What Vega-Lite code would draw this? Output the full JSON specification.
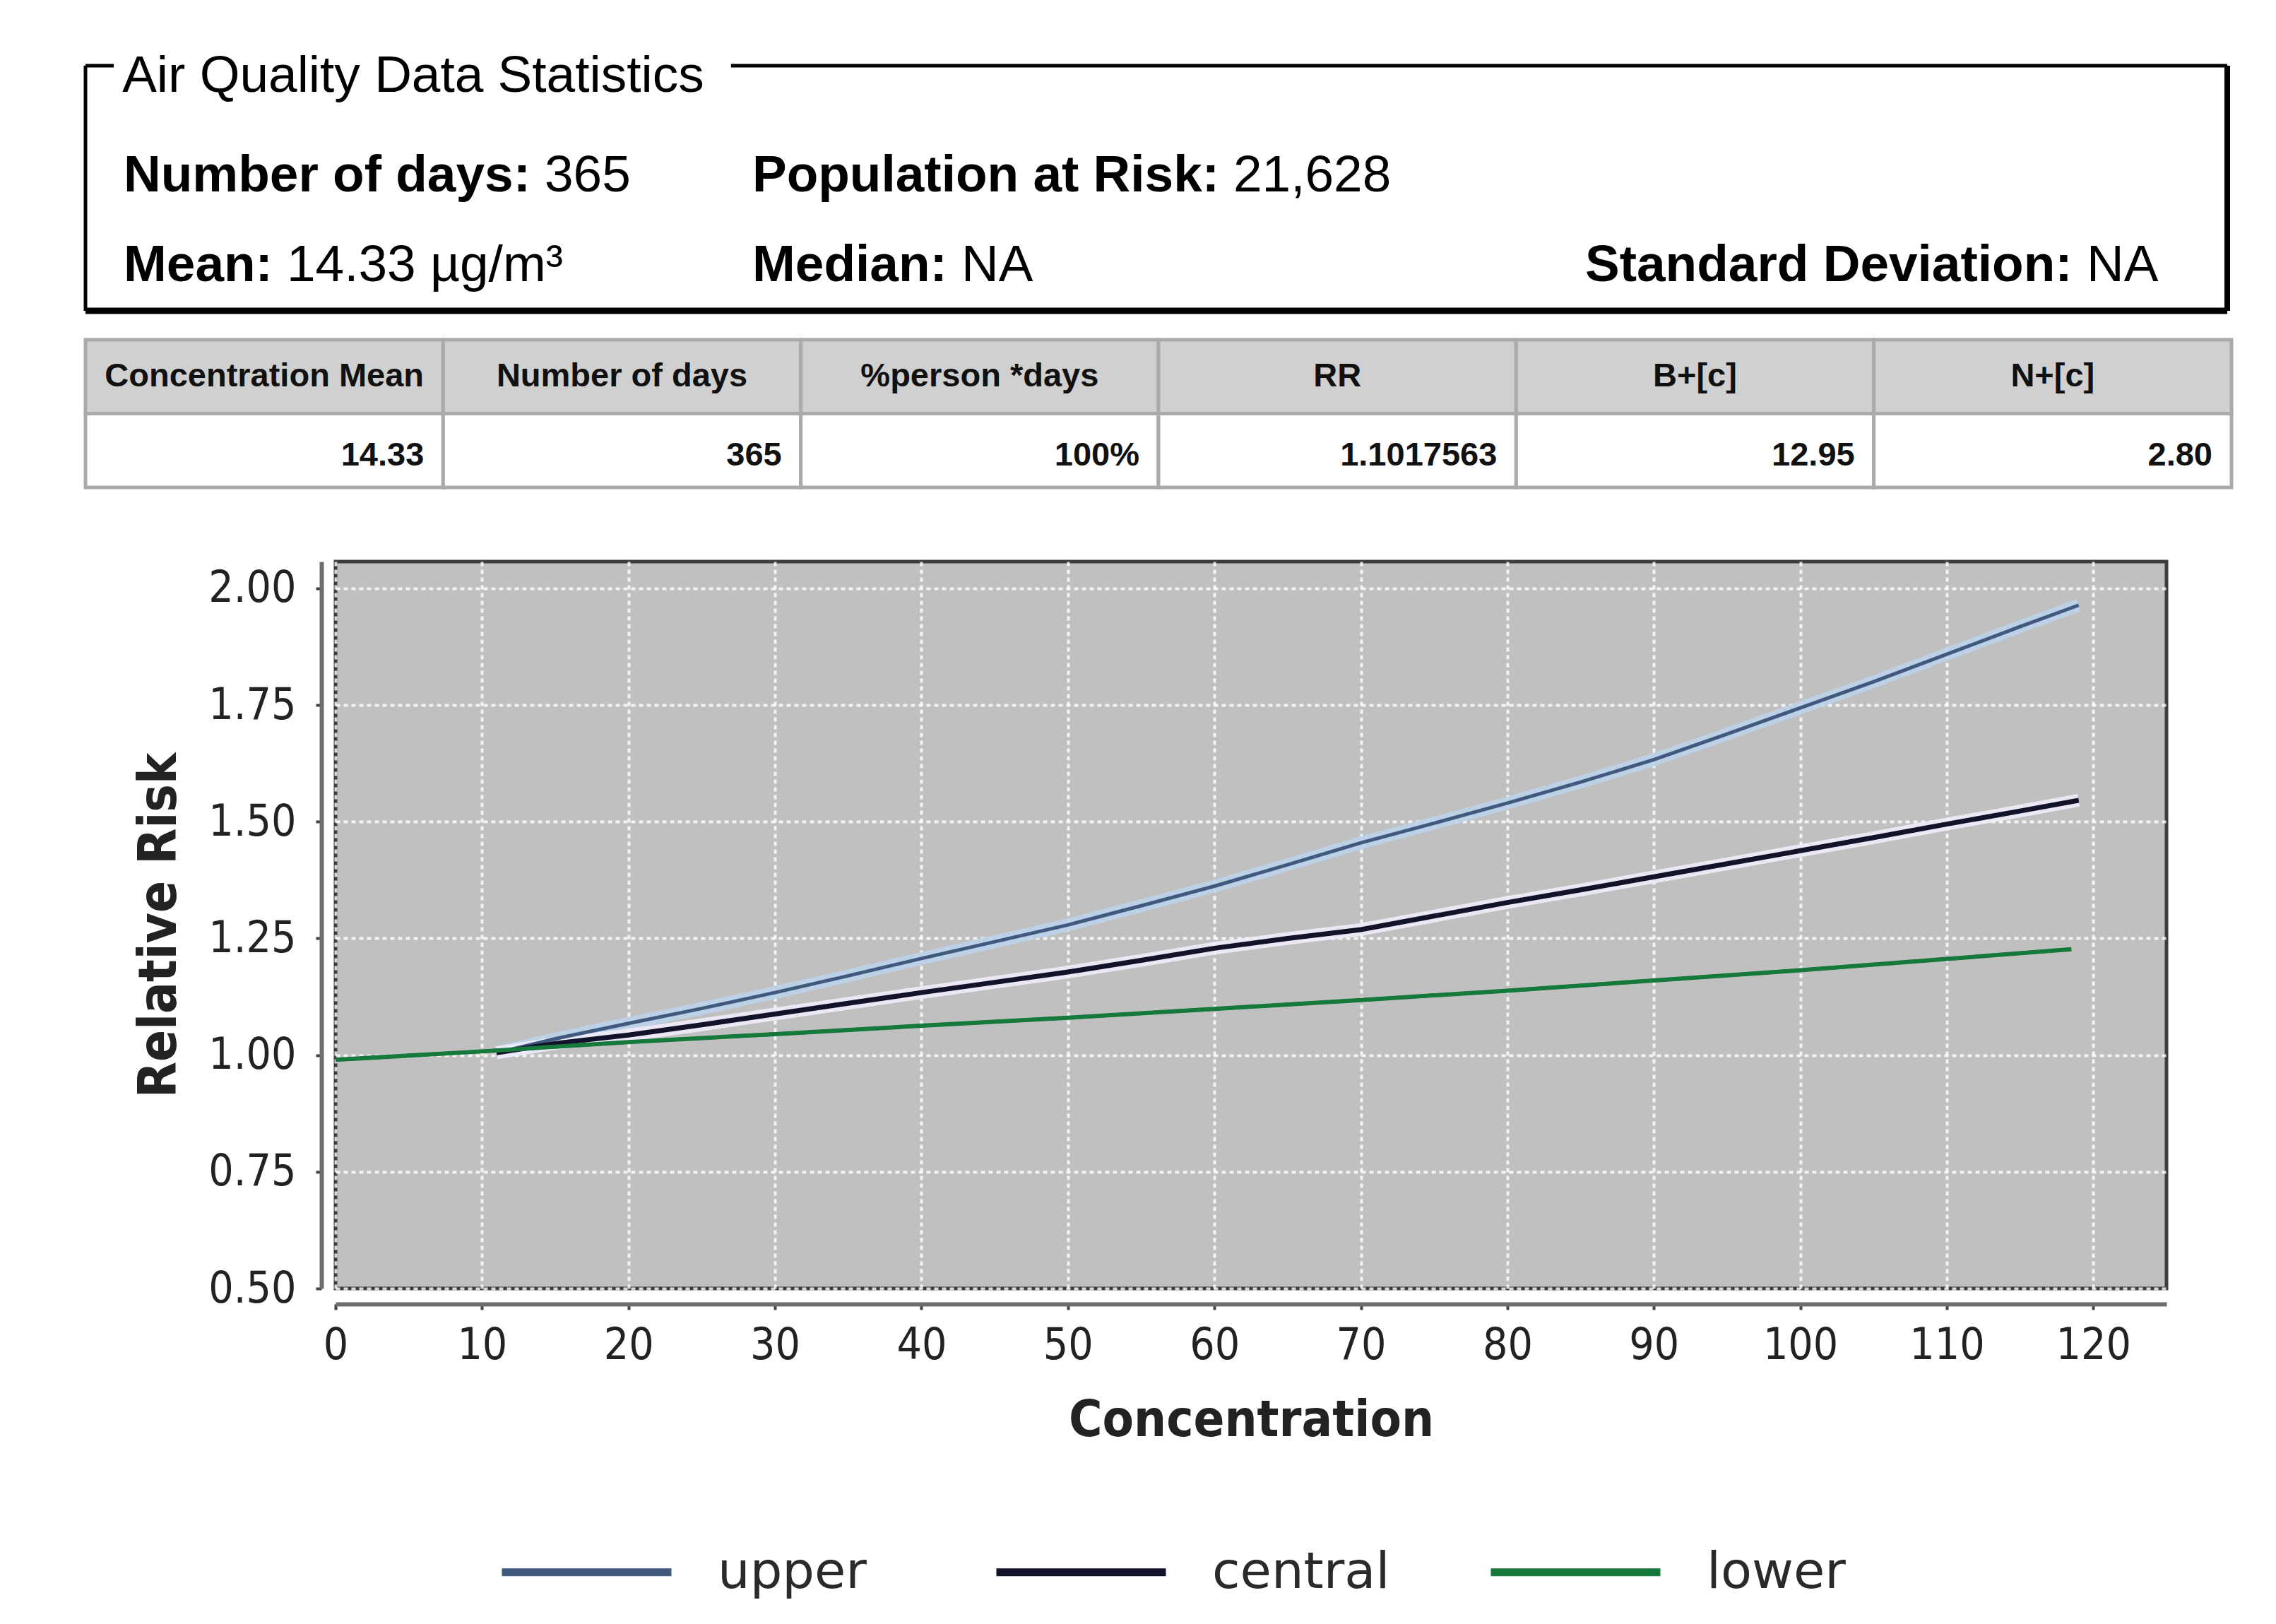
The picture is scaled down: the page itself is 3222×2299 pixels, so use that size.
{
  "$schema": "https://vega.github.io/schema/vega-lite/v6.json",
  "background": "white",
  "autosize": {"type": "none"},
  "padding": {"left": 475, "top": 795, "right": 155, "bottom": 475},
  "width": 2592,
  "height": 1029,
  "view": {"fill": "#c0c0c0", "stroke": "#3c3c3c", "strokeWidth": 5},
  "datasets": {
    "stats": [
      {"label": "Number of days:", "value": "365", "line": 1, "slot": 1, "order": 2},
      {"label": "Population at Risk:", "value": "21,628", "line": 1, "slot": 2, "order": 4},
      {"label": "Mean:", "value": "14.33 µg/m³", "line": 2, "slot": 1, "order": 1},
      {"label": "Median:", "value": "NA", "line": 2, "slot": 2, "order": 3},
      {"label": "Standard Deviation:", "value": "NA", "line": 2, "slot": 3, "order": 5}
    ],
    "table": [
      {"col": 1, "part": "header", "text": "Concentration Mean"},
      {"col": 2, "part": "header", "text": "Number of days"},
      {"col": 3, "part": "header", "text": "%person *days"},
      {"col": 4, "part": "header", "text": "RR"},
      {"col": 5, "part": "header", "text": "B+[c]"},
      {"col": 6, "part": "header", "text": "N+[c]"},
      {"col": 1, "part": "value", "text": "14.33"},
      {"col": 2, "part": "value", "text": "365"},
      {"col": 3, "part": "value", "text": "100%"},
      {"col": 4, "part": "value", "text": "1.1017563"},
      {"col": 5, "part": "value", "text": "12.95"},
      {"col": 6, "part": "value", "text": "2.80"}
    ],
    "curves": [
      {"series": "upper", "conc": 11, "rr": 1.005},
      {"series": "upper", "conc": 15, "rr": 1.035},
      {"series": "upper", "conc": 20, "rr": 1.068},
      {"series": "upper", "conc": 25, "rr": 1.1},
      {"series": "upper", "conc": 30, "rr": 1.134},
      {"series": "upper", "conc": 35, "rr": 1.17},
      {"series": "upper", "conc": 40, "rr": 1.207},
      {"series": "upper", "conc": 45, "rr": 1.243},
      {"series": "upper", "conc": 50, "rr": 1.279},
      {"series": "upper", "conc": 55, "rr": 1.32},
      {"series": "upper", "conc": 60, "rr": 1.362},
      {"series": "upper", "conc": 65, "rr": 1.408},
      {"series": "upper", "conc": 70, "rr": 1.455},
      {"series": "upper", "conc": 75, "rr": 1.497},
      {"series": "upper", "conc": 80, "rr": 1.54},
      {"series": "upper", "conc": 85, "rr": 1.585},
      {"series": "upper", "conc": 90, "rr": 1.633},
      {"series": "upper", "conc": 95, "rr": 1.688},
      {"series": "upper", "conc": 100, "rr": 1.744},
      {"series": "upper", "conc": 105, "rr": 1.8},
      {"series": "upper", "conc": 110, "rr": 1.859},
      {"series": "upper", "conc": 115, "rr": 1.918},
      {"series": "upper", "conc": 119, "rr": 1.964},
      {"series": "central", "conc": 11, "rr": 1.005},
      {"series": "central", "conc": 15, "rr": 1.025},
      {"series": "central", "conc": 20, "rr": 1.043},
      {"series": "central", "conc": 25, "rr": 1.065},
      {"series": "central", "conc": 30, "rr": 1.088},
      {"series": "central", "conc": 35, "rr": 1.111},
      {"series": "central", "conc": 40, "rr": 1.134},
      {"series": "central", "conc": 45, "rr": 1.156},
      {"series": "central", "conc": 50, "rr": 1.178},
      {"series": "central", "conc": 55, "rr": 1.203},
      {"series": "central", "conc": 60, "rr": 1.229},
      {"series": "central", "conc": 65, "rr": 1.25},
      {"series": "central", "conc": 70, "rr": 1.269},
      {"series": "central", "conc": 75, "rr": 1.298},
      {"series": "central", "conc": 80, "rr": 1.327},
      {"series": "central", "conc": 85, "rr": 1.354},
      {"series": "central", "conc": 90, "rr": 1.382},
      {"series": "central", "conc": 95, "rr": 1.41},
      {"series": "central", "conc": 100, "rr": 1.438},
      {"series": "central", "conc": 105, "rr": 1.466},
      {"series": "central", "conc": 110, "rr": 1.495},
      {"series": "central", "conc": 115, "rr": 1.523},
      {"series": "central", "conc": 119, "rr": 1.546},
      {"series": "lower", "conc": 0, "rr": 0.99},
      {"series": "lower", "conc": 10, "rr": 1.008},
      {"series": "lower", "conc": 20, "rr": 1.028},
      {"series": "lower", "conc": 30, "rr": 1.045},
      {"series": "lower", "conc": 40, "rr": 1.063},
      {"series": "lower", "conc": 50, "rr": 1.08},
      {"series": "lower", "conc": 60, "rr": 1.099},
      {"series": "lower", "conc": 70, "rr": 1.118},
      {"series": "lower", "conc": 80, "rr": 1.138},
      {"series": "lower", "conc": 90, "rr": 1.16},
      {"series": "lower", "conc": 100, "rr": 1.182},
      {"series": "lower", "conc": 110, "rr": 1.206},
      {"series": "lower", "conc": 118.5, "rr": 1.227}
    ]
  },
  "layer": [
    {
      "data": {"values": [{}]},
      "mark": {"type": "rule", "color": "#000000", "strokeWidth": 5},
      "encoding": {
        "x": {"datum": 0, "type": "quantitative", "scale": {"domain": [0, 1], "range": [-354, 2678]}, "axis": null},
        "x2": {"datum": 0.0132},
        "y": {"datum": 0, "type": "quantitative", "scale": {"domain": [0, 1], "range": [-702, -355]}, "axis": null}
      }
    },
    {
      "data": {"values": [{}]},
      "mark": {"type": "rule", "color": "#000000", "strokeWidth": 5},
      "encoding": {
        "x": {"datum": 0.3014, "type": "quantitative", "scale": {"domain": [0, 1], "range": [-354, 2678]}, "axis": null},
        "x2": {"datum": 1},
        "y": {"datum": 0, "type": "quantitative", "scale": {"domain": [0, 1], "range": [-702, -355]}, "axis": null}
      }
    },
    {
      "data": {"values": [{}]},
      "mark": {"type": "rule", "color": "#000000", "strokeWidth": 5},
      "encoding": {
        "x": {"datum": 0, "type": "quantitative", "scale": {"domain": [0, 1], "range": [-354, 2678]}, "axis": null},
        "y": {"datum": 0, "type": "quantitative", "scale": {"domain": [0, 1], "range": [-702, -355]}, "axis": null},
        "y2": {"datum": 1}
      }
    },
    {
      "data": {"values": [{}]},
      "mark": {"type": "rule", "color": "#000000", "strokeWidth": 8},
      "encoding": {
        "x": {"datum": 1, "type": "quantitative", "scale": {"domain": [0, 1], "range": [-354, 2678]}, "axis": null},
        "y": {"datum": 0, "type": "quantitative", "scale": {"domain": [0, 1], "range": [-702, -355]}, "axis": null},
        "y2": {"datum": 1}
      }
    },
    {
      "data": {"values": [{}]},
      "mark": {"type": "rule", "color": "#000000", "strokeWidth": 9},
      "encoding": {
        "x": {"datum": 0, "type": "quantitative", "scale": {"domain": [0, 1], "range": [-354, 2678]}, "axis": null},
        "x2": {"datum": 1},
        "y": {"datum": 1, "type": "quantitative", "scale": {"domain": [0, 1], "range": [-702, -355]}, "axis": null}
      }
    },
    {
      "data": {"values": [{"title": "Air Quality Data Statistics"}]},
      "mark": {"type": "text", "font": "Liberation Sans", "fontSize": 73, "align": "left", "baseline": "alphabetic", "color": "#000000"},
      "encoding": {
        "x": {"datum": 0.0172, "type": "quantitative", "scale": {"domain": [0, 1], "range": [-354, 2678]}, "axis": null},
        "y": {"datum": 0.1066, "type": "quantitative", "scale": {"domain": [0, 1], "range": [-702, -355]}, "axis": null},
        "text": {"field": "title"}
      }
    },
    {
      "data": {"name": "stats"},
      "mark": {"type": "text", "font": "Liberation Sans", "fontWeight": "bold", "fontSize": 73, "align": "left", "baseline": "alphabetic", "color": "#000000"},
      "encoding": {
        "x": {"field": "slot", "type": "quantitative", "scale": {"domain": [1, 2, 3], "range": [-300, 590, 1769]}, "axis": null},
        "y": {"field": "line", "type": "quantitative", "scale": {"domain": [1, 2], "range": [-524.5, -397]}, "axis": null},
        "text": {"field": "label"}
      }
    },
    {
      "data": {"name": "stats"},
      "mark": {"type": "text", "font": "Liberation Sans", "fontSize": 73, "align": "left", "baseline": "alphabetic", "color": "#000000"},
      "encoding": {
        "x": {"field": "order", "type": "quantitative", "scale": {"domain": [1, 2, 3, 4, 5], "range": [-69, 296, 886, 1271, 2479]}, "axis": null},
        "y": {"field": "line", "type": "quantitative", "scale": {"domain": [1, 2], "range": [-524.5, -397]}, "axis": null},
        "text": {"field": "value"}
      }
    },
    {
      "data": {"name": "table"},
      "mark": {"type": "rect", "stroke": "#aaaaaa", "strokeWidth": 5},
      "encoding": {
        "x": {"field": "col", "type": "ordinal", "scale": {"type": "band", "range": [-354, 2684], "paddingInner": 0, "paddingOuter": 0}, "axis": null},
        "y": {"field": "part", "type": "nominal", "scale": {"type": "band", "domain": ["header", "value"], "range": [-314, -105], "paddingInner": 0, "paddingOuter": 0}, "axis": null},
        "fill": {"field": "part", "type": "nominal", "scale": {"domain": ["header", "value"], "range": ["#d0d0d0", "#ffffff"]}, "legend": null}
      }
    },
    {
      "data": {"name": "table"},
      "transform": [{"filter": {"field": "part", "equal": "header"}}],
      "mark": {"type": "text", "font": "Liberation Sans", "fontWeight": "bold", "fontSize": 47, "align": "center", "baseline": "middle", "color": "#111111"},
      "encoding": {
        "x": {"field": "col", "type": "ordinal", "bandPosition": 0.5, "scale": {"type": "band", "domain": [1, 2, 3, 4, 5, 6], "range": [-354, 2684], "paddingInner": 0, "paddingOuter": 0}, "axis": null},
        "y": {"field": "part", "type": "nominal", "bandPosition": 0.5, "scale": {"type": "band", "domain": ["header", "value"], "range": [-314, -105], "paddingInner": 0, "paddingOuter": 0}, "axis": null},
        "text": {"field": "text"}
      }
    },
    {
      "data": {"name": "table"},
      "transform": [{"filter": {"field": "part", "equal": "value"}}],
      "mark": {"type": "text", "font": "Liberation Sans", "fontWeight": "bold", "fontSize": 47, "align": "right", "baseline": "middle", "dx": -27, "dy": 7, "color": "#111111"},
      "encoding": {
        "x": {"field": "col", "type": "ordinal", "bandPosition": 1, "scale": {"type": "band", "domain": [1, 2, 3, 4, 5, 6], "range": [-354, 2684], "paddingInner": 0, "paddingOuter": 0}, "axis": null},
        "y": {"field": "part", "type": "nominal", "bandPosition": 0.5, "scale": {"type": "band", "domain": ["header", "value"], "range": [-314, -105], "paddingInner": 0, "paddingOuter": 0}, "axis": null},
        "text": {"field": "text"}
      }
    },
    {
      "data": {"name": "curves"},
      "transform": [{"filter": {"field": "series", "oneOf": ["upper", "central"]}}],
      "mark": {"type": "line", "strokeWidth": 18, "opacity": 0.9},
      "encoding": {
        "x": {"field": "conc", "type": "quantitative", "scale": {"domain": [0, 125], "nice": false, "zero": false}, "axis": null},
        "y": {"field": "rr", "type": "quantitative", "scale": {"domain": [0.5, 2.0575], "nice": false, "zero": false}, "axis": null},
        "stroke": {"field": "series", "type": "nominal", "scale": {"domain": ["upper", "central"], "range": ["#bcd3ea", "#f0ecfa"]}, "legend": null}
      }
    },
    {
      "data": {"name": "curves"},
      "mark": {"type": "line", "strokeWidth": 5},
      "encoding": {
        "x": {
          "field": "conc", "type": "quantitative",
          "scale": {"domain": [0, 125], "nice": false, "zero": false},
          "axis": {
            "title": "Concentration",
            "values": [0, 10, 20, 30, 40, 50, 60, 70, 80, 90, 100, 110, 120],
            "format": "d",
            "grid": true, "gridColor": "#ffffff", "gridDash": [6, 5], "gridWidth": 4, "gridOpacity": 0.8,
            "domainColor": "#6e6e6e", "domainWidth": 6, "offset": 22,
            "tickColor": "#444444", "tickSize": 8, "tickWidth": 4,
            "labelFont": "DejaVu Sans Condensed, DejaVu Sans", "labelFontSize": 62, "labelColor": "#222222", "labelPadding": 20,
            "labelFlush": false, "labelOverlap": false,
            "titleFont": "DejaVu Sans Condensed, DejaVu Sans", "titleFontWeight": "bold", "titleFontSize": 72, "titleColor": "#222222", "titlePadding": 40
          }
        },
        "y": {
          "field": "rr", "type": "quantitative",
          "scale": {"domain": [0.5, 2.0575], "nice": false, "zero": false},
          "axis": {
            "title": "Relative Risk",
            "values": [0.5, 0.75, 1.0, 1.25, 1.5, 1.75, 2.0],
            "format": ".2f",
            "grid": true, "gridColor": "#ffffff", "gridDash": [6, 5], "gridWidth": 4, "gridOpacity": 0.8,
            "domainColor": "#6e6e6e", "domainWidth": 6, "offset": 20,
            "tickColor": "#444444", "tickSize": 8, "tickWidth": 4,
            "labelFont": "DejaVu Sans Condensed, DejaVu Sans", "labelFontSize": 62, "labelColor": "#222222", "labelPadding": 28,
            "labelFlush": false, "labelOverlap": false,
            "titleFont": "DejaVu Sans Condensed, DejaVu Sans", "titleFontWeight": "bold", "titleFontSize": 74, "titleColor": "#222222", "titlePadding": 30
          }
        },
        "color": {
          "field": "series", "type": "nominal",
          "scale": {"domain": ["upper", "central", "lower"], "range": ["#3f5a7e", "#12122a", "#16793c"]},
          "legend": {
            "title": null, "orient": "none", "legendX": 230, "legendY": 1305,
            "direction": "horizontal", "columns": 3, "gridAlign": "all",
            "symbolType": "stroke", "symbolSize": 57600, "symbolStrokeWidth": 11,
            "labelFont": "DejaVu Sans", "labelFontSize": 72, "labelColor": "#2a2a2a",
            "labelOffset": 60, "columnPadding": 120, "padding": 0, "labelLimit": 0
          }
        }
      }
    },
    {
      "data": {"name": "curves"},
      "transform": [{"filter": {"field": "series", "equal": "central"}}],
      "mark": {"type": "line", "strokeWidth": 7, "color": "#12122a"},
      "encoding": {
        "x": {"field": "conc", "type": "quantitative", "scale": {"domain": [0, 125], "nice": false, "zero": false}, "axis": null},
        "y": {"field": "rr", "type": "quantitative", "scale": {"domain": [0.5, 2.0575], "nice": false, "zero": false}, "axis": null}
      }
    },
    {
      "data": {"name": "curves"},
      "transform": [{"filter": {"field": "series", "equal": "lower"}}],
      "mark": {"type": "line", "strokeWidth": 6, "color": "#16793c"},
      "encoding": {
        "x": {"field": "conc", "type": "quantitative", "scale": {"domain": [0, 125], "nice": false, "zero": false}, "axis": null},
        "y": {"field": "rr", "type": "quantitative", "scale": {"domain": [0.5, 2.0575], "nice": false, "zero": false}, "axis": null}
      }
    }
  ],
  "resolve": {"scale": {"x": "independent", "y": "independent"}}
}
